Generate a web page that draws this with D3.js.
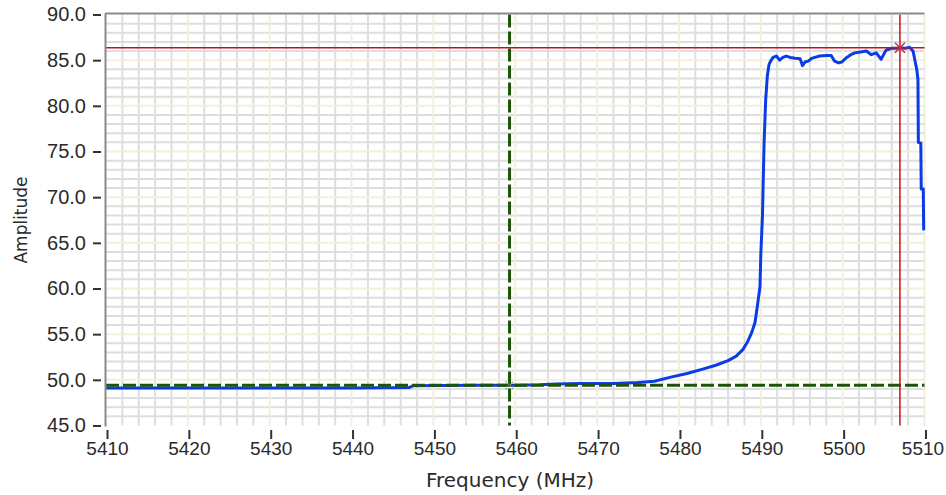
<!DOCTYPE html>
<html>
<head>
<meta charset="utf-8">
<script src="https://cdn.jsdelivr.net/npm/d3@7"></script>
<style>
    body { margin: 0; background: #ffffff; }
    svg { display: block; }
</style>
</head>
<body>
<div id="graph"></div>
<script>
// Chart data
const freqs = [5410, 5420, 5430, 5440, 5447, 5447.5, 5455, 5460, 5463, 5465, 5468, 5472, 5475, 5477,
    5479, 5481, 5483, 5484.5, 5486, 5487, 5487.8, 5488.4, 5488.9, 5489.3, 5489.6, 5489.9, 5490.0,
    5490.2, 5490.4, 5490.6, 5490.8, 5491.0, 5491.2, 5491.5, 5491.9, 5492.3, 5492.7, 5493.1, 5493.6,
    5494.2, 5494.8, 5495.1, 5495.4, 5495.8, 5496.2, 5496.6, 5497.2, 5498.0, 5498.6, 5499.0, 5499.5,
    5499.9, 5500.5, 5501.0, 5501.5, 5502.2, 5502.9, 5503.5, 5504.1, 5504.7, 5505.3, 5506.0, 5506.6,
    5507.0, 5507.6, 5508.2, 5508.6, 5509.05, 5509.2, 5509.25, 5509.55, 5509.6, 5509.85, 5509.9, 5510];
const amps = [49.1, 49.1, 49.1, 49.1, 49.15, 49.35, 49.4, 49.4, 49.45, 49.55, 49.6, 49.6, 49.7, 49.85,
    50.3, 50.7, 51.2, 51.6, 52.1, 52.6, 53.3, 54.2, 55.2, 56.3, 58.2, 60.2, 63.7,
    67.9, 75.9, 80.7, 83.3, 84.5, 84.9, 85.3, 85.45, 85.0, 85.3, 85.45, 85.3,
    85.2, 85.15, 84.4, 84.8, 84.9, 85.2, 85.3, 85.45, 85.5, 85.5, 84.9, 84.7,
    84.8, 85.3, 85.6, 85.8, 85.9, 86.0, 85.6, 85.8, 85.1, 86.1, 86.3, 86.3,
    86.35, 86.3, 86.4, 86.0, 84.0, 82.9, 76.0, 75.9, 70.9, 70.9, 66.5, 66.4];

const xTicks = [5410, 5420, 5430, 5440, 5450, 5460, 5470, 5480, 5490, 5500, 5510];
const yTicks = [45, 50, 55, 60, 65, 70, 75, 80, 85, 90];

// cursors: [frequency, amplitude]
const redCursor = [5507.0, 86.35];
const greenCursor = [5459.3, 49.4];

const width = 946, height = 495;
const plot = { left: 106, right: 924.5, top: 14.5, bottom: 425.5 };

let svg = d3.select("#graph")
    .append("svg")
    .attr("width", width)
    .attr("height", height)
    .style("font-family", "'DejaVu Sans', sans-serif");

let x = d3.scaleLinear().domain([5410, 5510]).range([plot.left, plot.right]);
let y = d3.scaleLinear().domain([45, 90]).range([plot.bottom, plot.top]);

// grid: minor lines first, then the cream major lines
let grid = svg.append("g");
grid.selectAll(".vminor").data(d3.range(5410, 5511, 2).filter(d => d % 10 != 0))
    .enter().append("line")
    .attr("x1", d => x(d)).attr("x2", d => x(d))
    .attr("y1", plot.top).attr("y2", plot.bottom)
    .attr("stroke", "#dedede").attr("stroke-width", 2);
grid.selectAll(".hminor").data(d3.range(46, 90, 1).filter(d => d % 5 != 0))
    .enter().append("line")
    .attr("x1", plot.left).attr("x2", plot.right)
    .attr("y1", d => y(d)).attr("y2", d => y(d))
    .attr("stroke", "#dedede").attr("stroke-width", 2);
grid.selectAll(".vmajor").data(xTicks.slice(1))
    .enter().append("line")
    .attr("x1", d => x(d)).attr("x2", d => x(d))
    .attr("y1", plot.top).attr("y2", plot.bottom)
    .attr("stroke", "#f2f0dc").attr("stroke-width", 2);
grid.selectAll(".hmajor").data(yTicks.slice(1, -1))
    .enter().append("line")
    .attr("x1", plot.left).attr("x2", plot.right)
    .attr("y1", d => y(d)).attr("y2", d => y(d))
    .attr("stroke", "#f2f0dc").attr("stroke-width", 2);

// the trace
let trace = freqs.map((f, i) => ({ f: f, a: amps[i] }));
svg.append("path")
    .datum(trace)
    .attr("fill", "none")
    .attr("stroke", "#0a3be6")
    .attr("stroke-width", 3)
    .attr("stroke-linejoin", "round")
    .attr("d", d3.line().x(d => x(d.f)).y(d => y(d.a)));

// green dashed cursor
svg.append("line")
    .attr("x1", x(greenCursor[0])).attr("x2", x(greenCursor[0]))
    .attr("y1", plot.top).attr("y2", plot.bottom)
    .attr("stroke", "#1d540c").attr("stroke-width", 3).attr("stroke-dasharray", "13,4");
svg.append("line")
    .attr("x1", plot.left).attr("x2", plot.right)
    .attr("y1", y(greenCursor[1])).attr("y2", y(greenCursor[1]))
    .attr("stroke", "#1d540c").attr("stroke-width", 3).attr("stroke-dasharray", "13,4");
svg.append("path")
    .attr("transform", `translate(${x(greenCursor[0])}, ${y(greenCursor[1])})`)
    .attr("d", "M-4,-4L4,4M-4,4L4,-4")
    .attr("stroke", "#7a9a70").attr("stroke-width", 1.2).attr("stroke-dasharray", "1.5,1.5");

// red cursor
svg.append("line")
    .attr("x1", x(redCursor[0])).attr("x2", x(redCursor[0]))
    .attr("y1", plot.top).attr("y2", plot.bottom)
    .attr("stroke", "#c0101a").attr("stroke-width", 1.5);
svg.append("line")
    .attr("x1", plot.left).attr("x2", plot.right)
    .attr("y1", y(redCursor[1])).attr("y2", y(redCursor[1]))
    .attr("stroke", "#c0101a").attr("stroke-width", 1.5);
svg.append("path")
    .attr("transform", `translate(${x(redCursor[0])}, ${y(redCursor[1])})`)
    .attr("d", "M-5,-5L5,5M-5,5L5,-5")
    .attr("stroke", "#d0303a").attr("stroke-width", 1.5);

// frame lines (left and top)
svg.append("line")
    .attr("x1", plot.left - 0.5).attr("x2", plot.left - 0.5)
    .attr("y1", plot.top - 1).attr("y2", plot.bottom + 1)
    .attr("stroke", "#8a8a8a").attr("stroke-width", 2);
svg.append("line")
    .attr("x1", plot.left - 1).attr("x2", plot.right)
    .attr("y1", plot.top - 1).attr("y2", plot.top - 1)
    .attr("stroke", "#8a8a8a").attr("stroke-width", 2);

// y axis
let yAxis = svg.append("g")
    .attr("transform", `translate(101, 0)`)
    .call(d3.axisLeft(y).tickValues(yTicks).tickFormat(d3.format(".1f")).tickSize(8).tickPadding(7));
yAxis.select(".domain").remove();
yAxis.selectAll("line").attr("stroke", "#333").attr("stroke-width", 2);
yAxis.selectAll("text").style("font-size", "20px").attr("fill", "#2a2a2a");

// x axis
let xAxis = svg.append("g")
    .attr("transform", `translate(1, 430)`)
    .call(d3.axisBottom(x).tickValues(xTicks).tickFormat(d3.format("d")).tickSize(9).tickPadding(3));
xAxis.select(".domain").remove();
xAxis.selectAll("line").attr("stroke", "#333").attr("stroke-width", 2);
xAxis.selectAll("text").style("font-size", "19px").attr("fill", "#2a2a2a");
// keep the last label inside the window
xAxis.selectAll("text").filter(d => d == 5510).attr("dx", -3);

// axis labels
svg.append("text")
    .attr("x", 510).attr("y", 487)
    .style("text-anchor", "middle")
    .style("font-size", "20px")
    .attr("fill", "#2a2a2a")
    .text("Frequency (MHz)");

svg.append("text")
    .attr("transform", `translate(27, 220) rotate(-90)`)
    .style("text-anchor", "middle")
    .style("font-size", "17px")
    .attr("fill", "#2a2a2a")
    .text("Amplitude");
</script>
</body>
</html>
